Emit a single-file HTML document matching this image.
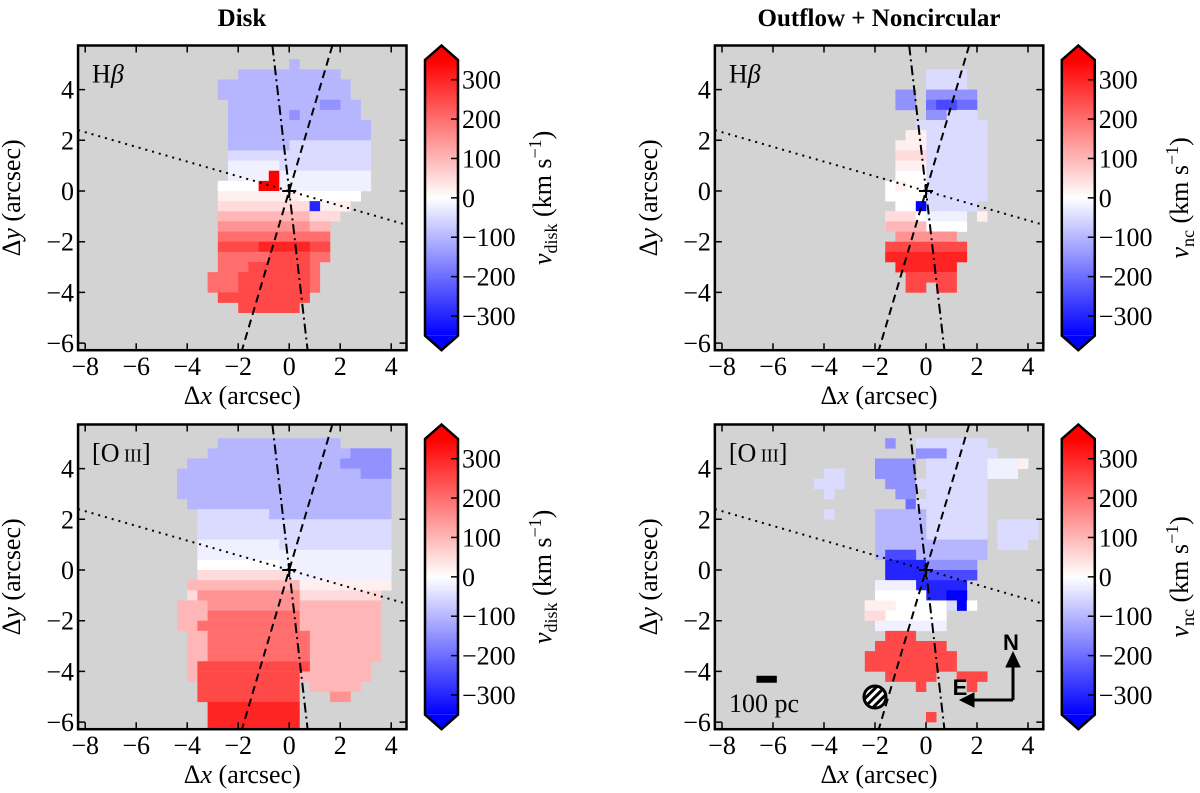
<!DOCTYPE html>
<html><head><meta charset="utf-8">
<style>
html,body{margin:0;padding:0;background:#fff;}
svg{display:block;font-family:"Liberation Serif",serif;}
</style></head>
<body>
<svg id="fig" width="1200" height="793" viewBox="0 0 1200 793" xmlns="http://www.w3.org/2000/svg">
<defs>
<linearGradient id="bwr" x1="0" y1="1" x2="0" y2="0">
<stop offset="0" stop-color="rgb(0,0,255)"/>
<stop offset="0.5" stop-color="rgb(255,255,255)"/>
<stop offset="1" stop-color="rgb(255,0,0)"/>
</linearGradient>
<pattern id="hatch" patternUnits="userSpaceOnUse" width="6" height="6" patternTransform="rotate(45)">
<rect width="6" height="6" fill="#fff"/><rect width="3" height="6" fill="#000"/>
</pattern>
</defs>
<text x="242" y="26" font-size="25" font-weight="bold" text-anchor="middle">Disk</text>
<text x="879" y="26" font-size="25" font-weight="bold" text-anchor="middle">Outflow + Noncircular</text>
</svg>
<script>
// colour codes -> velocity (km/s)
const codes = ['A','B','C','D','E','F','G','H','0','h','g','f','e','d','c','b','a'];
const codeValues = [-350,-300,-250,-200,-150,-100,-50,-20,0,20,50,100,150,200,250,300,350];
const xTicks = [-8,-6,-4,-2,0,2,4];
const yTicks = [-6,-4,-2,0,2,4];
const cbTicks = [-300,-200,-100,0,100,200,300];
// runs: [row, colStart, colEnd, code]; col c covers x in [-4.4+0.4c, -4.0+0.4c]; row r covers y in [4.8-0.4r, 5.2-0.4r]
const hbDisk = [
[0,11,11,'F'],[1,6,15,'F'],[2,4,16,'F'],[3,4,16,'F'],[4,5,17,'F'],[4,14,15,'E'],[5,5,17,'F'],[5,11,11,'E'],
[6,5,18,'F'],[7,5,18,'F'],[8,5,18,'G'],[8,5,10,'F'],[9,5,18,'G'],[10,5,18,'G'],[10,5,9,'H'],[11,5,18,'H'],
[12,4,18,'H'],[12,4,9,'0'],[11,9,9,'a'],[12,8,9,'a'],
[13,4,17,'h'],[13,12,17,'0'],[14,4,16,'g'],[14,13,16,'h'],[14,13,13,'B'],
[15,4,15,'f'],[15,13,15,'g'],[16,4,14,'e'],[16,13,14,'f'],[17,4,14,'d'],[18,4,14,'c'],[18,8,12,'b'],
[19,4,14,'d'],[19,9,12,'c'],[20,4,13,'d'],[20,7,12,'c'],[21,3,13,'d'],[21,6,12,'c'],[22,3,13,'d'],[22,6,12,'c'],
[23,4,12,'c'],[24,6,11,'c']
];
const hbNc = [
[1,11,14,'G'],[2,11,14,'G'],[3,8,9,'E'],[4,8,9,'E'],[3,11,15,'E'],[4,11,15,'D'],[5,12,15,'G'],[4,12,13,'C'],[5,11,12,'E'],
[6,10,16,'G'],[7,10,16,'G'],[8,10,16,'G'],[9,10,16,'G'],[10,10,16,'G'],[11,10,16,'G'],[12,11,16,'G'],[13,11,16,'G'],[14,11,15,'G'],
[7,9,10,'h'],[8,8,10,'h'],[9,8,10,'g'],[10,8,10,'h'],[11,8,10,'0'],[12,7,10,'0'],[12,8,8,'h'],[13,7,10,'0'],[14,8,10,'0'],[14,10,10,'A'],
[15,7,14,'H'],[15,7,9,'g'],[15,10,10,'0'],[15,16,16,'h'],[16,7,14,'0'],[16,7,10,'f'],[17,8,13,'e'],
[18,7,14,'c'],[19,7,14,'b'],[20,8,13,'b'],[21,9,13,'c'],[22,9,10,'c'],[22,12,13,'c']
];
const oDisk = [
[0,4,15,'F'],[1,3,20,'F'],[1,17,20,'E'],[2,1,20,'F'],[2,16,20,'E'],[3,0,20,'F'],[3,18,20,'E'],[4,0,20,'F'],[5,0,20,'F'],
[6,1,20,'F'],[7,2,20,'F'],[7,2,8,'G'],[8,2,20,'G'],[9,2,20,'G'],[10,2,20,'G'],[10,2,9,'H'],[11,2,20,'H'],
[12,2,20,'H'],[12,2,9,'0'],[13,2,20,'H'],[13,2,10,'g'],[14,1,20,'h'],[14,1,11,'f'],
[15,1,19,'g'],[15,2,11,'e'],[16,0,19,'f'],[16,3,11,'e'],[17,0,19,'f'],[17,3,11,'d'],[18,0,19,'f'],[18,2,11,'d'],
[19,1,19,'f'],[19,3,12,'d'],[20,1,19,'f'],[20,3,12,'d'],[21,1,19,'f'],[21,3,12,'d'],[22,1,18,'f'],[22,2,12,'c'],
[23,1,18,'f'],[23,2,11,'c'],[24,2,11,'c'],[24,13,17,'f'],[25,2,11,'c'],[25,15,16,'e'],[26,3,11,'b'],[27,3,11,'b'],[28,3,11,'b']
];
const oNc = [
[0,7,7,'E'],[0,10,16,'G'],[1,10,17,'G'],[1,10,12,'E'],[2,17,20,'H'],[2,20,20,'h'],[3,17,19,'H'],
[2,6,9,'E'],[3,6,9,'E'],[4,7,9,'E'],[5,8,9,'E'],[6,9,9,'D'],
[3,1,2,'G'],[4,0,2,'G'],[5,1,1,'G'],[7,1,1,'G'],
[2,11,16,'G'],[3,11,16,'G'],[4,10,16,'G'],[5,11,16,'G'],[6,10,16,'G'],[7,11,16,'G'],[8,11,16,'G'],[9,11,16,'G'],[10,11,16,'F'],
[8,18,21,'G'],[9,18,21,'G'],[10,18,20,'G'],
[7,6,10,'F'],[8,6,10,'F'],[9,6,10,'F'],[10,6,10,'F'],[11,6,16,'F'],[11,7,9,'C'],
[12,7,10,'B'],[13,7,10,'B'],[12,11,15,'E'],[13,11,15,'C'],[14,10,14,'B'],[15,11,14,'B'],[15,13,14,'A'],[16,14,14,'A'],
[14,6,9,'H'],[15,6,10,'0'],[16,5,12,'0'],[16,5,7,'h'],[17,5,12,'0'],[17,5,6,'g'],[18,6,12,'H'],[16,13,13,'G'],[16,15,15,'0'],
[19,7,9,'c'],[20,6,12,'c'],[21,5,13,'c'],[22,5,13,'c'],[23,7,11,'c'],[24,10,10,'c'],[23,14,16,'c'],[24,15,15,'c'],[27,11,11,'c']
];

const NS='http://www.w3.org/2000/svg';
const svg=document.getElementById('fig');
const SX=25.5, SY=25.35, XMIN=-8.28, XMAX=4.6, YMIN=-6.28, YMAX=5.74;
function mk(tag,attrs,parent){const e=document.createElementNS(NS,tag);for(const k in attrs)e.setAttribute(k,attrs[k]);(parent||svg).appendChild(e);return e;}
function color(v){let t=(v+350)/700;t=Math.max(0,Math.min(1,t));let r,g,b;
 if(t<0.5){r=g=Math.round(510*t);b=255;}else{r=255;g=b=Math.round(510*(1-t));}return `rgb(${r},${g},${b})`;}

function panel(ox,oy,runs,label,cbLabel,idx,extra){
 const X=x=>ox+x*SX, Y=y=>oy-y*SY;
 const L=X(XMIN),R=X(XMAX),T=Y(YMAX),B=Y(YMIN);
 const g=mk('g',{});
 
 
 const clipId='clip'+idx;
 const cp=mk('clipPath',{id:clipId},g);mk('rect',{x:L,y:T,width:R-L,height:B-T},cp);
 const bg=mk('rect',{x:L,y:T,width:R-L,height:B-T,fill:'#d3d3d3'},g);
 
 
 const cells=mk('g',{'clip-path':`url(#${clipId})`},g);
 for(const [r,c0,c1,ch] of runs){
  const v=codeValues[codes.indexOf(ch)];
  for(let c=c0;c<=c1;c++){
   const x0=-4.4+0.4*c, y1=5.2-0.4*r;
   const cell=mk('rect',{x:X(x0),y:Y(y1),width:0.4*SX+0.3,height:0.4*SY+0.3,fill:color(v)},cells);
   
   
  }
 }
 const lines=mk('g',{'clip-path':`url(#${clipId})`,stroke:'#000','stroke-width':2,fill:'none'},g);
 const dd=mk('line',{x1:X(-0.115*YMAX),y1:Y(YMAX),x2:X(-0.115*YMIN),y2:Y(YMIN),'stroke-dasharray':'10,4,2,4'},lines);
 
 
 const ds=mk('line',{x1:X(0.295*YMAX),y1:Y(YMAX),x2:X(0.295*YMIN),y2:Y(YMIN),'stroke-dasharray':'8,5'},lines);
 
 
 const dt=mk('line',{x1:X(XMIN),y1:Y(-0.29*XMIN),x2:X(XMAX),y2:Y(-0.29*XMAX),'stroke-dasharray':'2,5'},lines);
 
 
 const pl=mk('path',{d:`M${X(0)-7},${Y(0)}h14M${X(0)},${Y(0)-7}v14`},lines);
 
 
 if(extra)extra(g,X,Y);
 const fr=mk('rect',{x:L,y:T,width:R-L,height:B-T,fill:'none',stroke:'#000','stroke-width':2.5},g);
 
 
 for(const t of xTicks){
  mk('path',{d:`M${X(t)},${B}v-7M${X(t)},${T}v7`,stroke:'#000','stroke-width':1.5},g);
  const tl=mk('text',{x:X(t),y:B+25,'font-size':26,'text-anchor':'middle'},g);
  tl.textContent=(t<0?'\u2212':'')+Math.abs(t);
  
  
 }
 for(const t of yTicks){
  mk('path',{d:`M${L},${Y(t)}h7M${R},${Y(t)}h-7`,stroke:'#000','stroke-width':1.5},g);
  const tl=mk('text',{x:L-4,y:Y(t)+9,'font-size':26,'text-anchor':'end'},g);
  tl.textContent=(t<0?'\u2212':'')+Math.abs(t);
  
  
 }
 const xl=mk('text',{x:(L+R)/2,y:B+54,'font-size':26,'text-anchor':'middle'},g);
 xl.innerHTML='\u0394<tspan font-style="italic">x</tspan> (arcsec)';
 
 
 const cy=(T+B)/2;
 const yl=mk('text',{x:0,y:0,'font-size':26,'text-anchor':'middle',transform:`translate(${L-58},${cy}) rotate(-90)`},g);
 yl.innerHTML='\u0394<tspan font-style="italic">y</tspan> (arcsec)';
 
 
 const lb=mk('text',{x:L+14,y:T+37,'font-size':26},g);
 lb.innerHTML=label;
 
 
 const cx0=R+18.5, cw=33, cT=Y(YMAX)+14.5, cB=B-14.5;
 const cbg=mk('g',{},g);
 
 
 mk('rect',{x:cx0,y:cT,width:cw,height:cB-cT,fill:'url(#bwr)'},cbg);
 mk('path',{d:`M${cx0},${cT}L${cx0+cw/2},${T}L${cx0+cw},${cT}Z`,fill:'rgb(255,0,0)'},cbg);
 mk('path',{d:`M${cx0},${cB}L${cx0+cw/2},${B}L${cx0+cw},${cB}Z`,fill:'rgb(0,0,255)'},cbg);
 mk('path',{d:`M${cx0},${cT}L${cx0+cw/2},${T}L${cx0+cw},${cT}V${cB}L${cx0+cw/2},${B}L${cx0},${cB}Z`,fill:'none',stroke:'#000','stroke-width':2.5},cbg);
 const cbY=v=>(cT+cB)/2-v*(cB-cT)/700;
 for(const t of cbTicks){
  mk('path',{d:`M${cx0+cw},${cbY(t)}h-7`,stroke:'#000','stroke-width':1.5},cbg);
  const tl=mk('text',{x:cx0+cw+4,y:cbY(t)+9,'font-size':26},cbg);
  tl.textContent=(t<0?'\u2212':'')+Math.abs(t);
  
  
 }
 const cl=mk('text',{x:0,y:0,'font-size':26,'text-anchor':'middle',transform:`translate(${cx0+cw+93},${cy}) rotate(-90)`},cbg);
 cl.innerHTML=cbLabel;
 
 
}
const hb='H<tspan font-style="italic">\u03B2</tspan>';
const o3='[O<tspan font-size="18"> III</tspan>]';
const vd='<tspan font-style="italic">v</tspan><tspan font-size="18" dy="6">disk</tspan><tspan dy="-6"> (km s</tspan><tspan font-size="18" dy="-10">\u22121</tspan><tspan dy="10">)</tspan>';
const vn='<tspan font-style="italic">v</tspan><tspan font-size="18" dy="6">nc</tspan><tspan dy="-6"> (km s</tspan><tspan font-size="18" dy="-10">\u22121</tspan><tspan dy="10">)</tspan>';
panel(289.2,191,hbDisk,hb,vd,1);
panel(926,191,hbNc,hb,vn,2);
panel(289.2,570,oDisk,o3,vd,3);
panel(926,570,oNc,o3,vn,4,(g,X,Y)=>{
 const sb=mk('rect',{x:X(-6.65),y:Y(-4.31)-3.5,width:0.8*SX,height:7,fill:'#000'},g);
 
 
 const st=mk('text',{x:729,y:712,'font-size':26},g);
 st.textContent='100 pc';
 
 
 const bm=mk('circle',{cx:875,cy:697,r:11,fill:'url(#hatch)',stroke:'#000','stroke-width':3},g);
 
 
 const ar=mk('g',{stroke:'#000','stroke-width':3,fill:'#000'},g);
 
 
 mk('path',{d:'M1013,700V665M1013,700H972',fill:'none'},ar);
 mk('path',{d:'M1006,667L1013,652L1020,667Z','stroke-width':1},ar);
 mk('path',{d:'M974,693L960,700L974,707Z','stroke-width':1},ar);
 const n=mk('text',{x:1011,y:650,'font-size':22,'font-weight':'bold','text-anchor':'middle','font-family':'Liberation Sans, sans-serif'},g);
 n.textContent='N';
 
 
 const e=mk('text',{x:960,y:695,'font-size':22,'font-weight':'bold','text-anchor':'middle','font-family':'Liberation Sans, sans-serif'},g);
 e.textContent='E';
 
 
});
</script>
</body></html>
